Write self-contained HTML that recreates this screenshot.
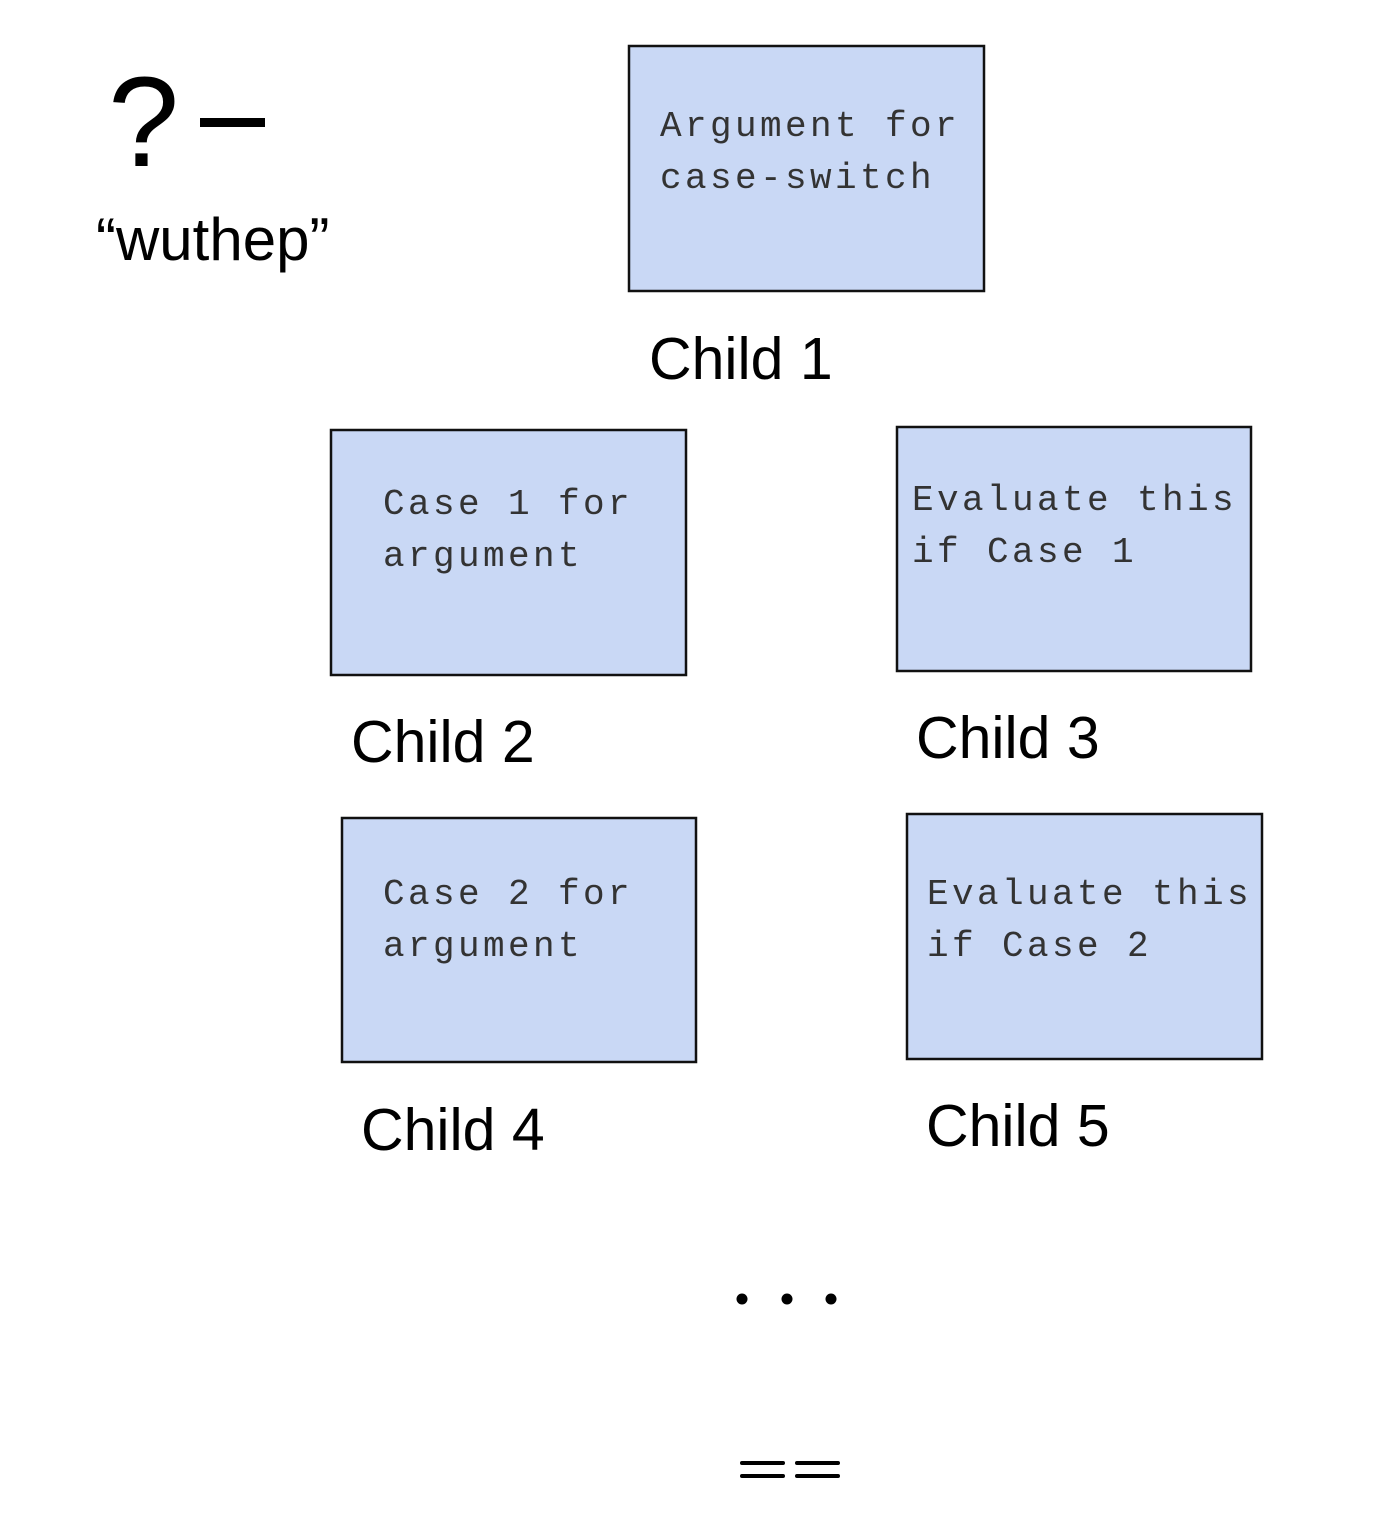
<!DOCTYPE html>
<html><head><meta charset="utf-8"><style>html,body{margin:0;padding:0;background:#fff}svg{display:block}</style></head>
<body>
<svg width="1396" height="1540" xmlns="http://www.w3.org/2000/svg">
<g font-family="Liberation Sans, Arial, sans-serif" fill="#000">
<text x="108" y="166" font-size="128" font-weight="300">?</text>
<rect x="200" y="118" width="65" height="9"/>
<text x="96" y="260" font-size="60">“wuthep”</text>
</g>
<g fill="#c9d8f5" stroke="#111" stroke-width="2.5">
<rect x="629" y="46" width="355" height="245"/>
<rect x="331" y="430" width="355" height="245"/>
<rect x="897" y="427" width="354" height="244"/>
<rect x="342" y="818" width="354" height="244"/>
<rect x="907" y="814" width="355" height="245"/>
</g>
<g font-family="Liberation Mono, Courier New, monospace" font-size="36" letter-spacing="3.4" fill="#333">
<text x="660" y="136">Argument for</text>
<text x="660" y="188">case-switch</text>
<text x="383" y="514">Case 1 for</text>
<text x="383" y="566">argument</text>
<text x="912" y="510">Evaluate this</text>
<text x="912" y="562">if Case 1</text>
<text x="383" y="904">Case 2 for</text>
<text x="383" y="956">argument</text>
<text x="927" y="904">Evaluate this</text>
<text x="927" y="956">if Case 2</text>
</g>
<g font-family="Liberation Sans, Arial, sans-serif" font-size="59" fill="#000">
<text x="649" y="379">Child 1</text>
<text x="351" y="762">Child 2</text>
<text x="916" y="758">Child 3</text>
<text x="361" y="1150">Child 4</text>
<text x="926" y="1146">Child 5</text>
</g>
<g fill="#000">
<circle cx="742" cy="1299" r="5.5"/>
<circle cx="787" cy="1299" r="5.5"/>
<circle cx="831" cy="1299" r="5.5"/>
<rect x="740" y="1461" width="45" height="4" rx="2"/>
<rect x="795" y="1461" width="45" height="4" rx="2"/>
<rect x="740" y="1474" width="45" height="4" rx="2"/>
<rect x="795" y="1474" width="45" height="4" rx="2"/>
</g>
</svg>
</body></html>
